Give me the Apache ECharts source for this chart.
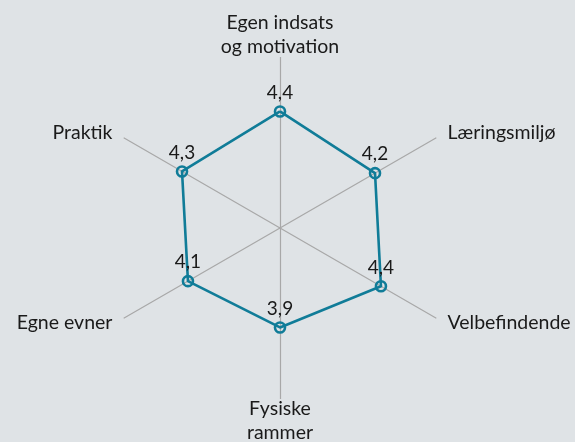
<!DOCTYPE html>
<html><head><meta charset="utf-8">
<script src="https://cdn.jsdelivr.net/npm/echarts@6/dist/echarts.min.js"></script>
<style>html,body{margin:0;padding:0;background:#dfe3e6;}#c{width:575px;height:442px;}</style>
</head><body><div id="c"></div>
<script>
// Indicators in counter-clockwise order starting at top
const categories = ['Egen indsats\nog motivation', 'Praktik', 'Egne evner', 'Fysiske\nrammer', 'Velbefindende', 'Læringsmiljø'];
const values = [4.4, 4.3, 4.1, 3.9, 4.4, 4.2];
const scaleMin = 1;
const scaleMax = 6.25;

const BG = '#dfe3e6';
const chart = echarts.init(document.getElementById('c'));
chart.setOption({
  backgroundColor: BG,
  textStyle: { fontFamily: 'Lato' },
  radar: {
    center: [280, 228],
    radius: 180,
    startAngle: 90,
    splitNumber: 1,
    indicator: categories.map(n => ({ name: n, min: scaleMin, max: scaleMax })),
    nameGap: 10,
    axisName: {
      color: '#1a1a1a', fontSize: 19.5, fontFamily: 'Lato', lineHeight: 24,
      padding: [-21, 3, -21, 3],
      formatter: n => n.split('\n').map(s => '{a|' + s + '}').join('\n'),
      rich: { a: { color: '#1a1a1a', fontSize: 19.5, fontFamily: 'Lato', lineHeight: 24, backgroundColor: BG } }
    },
    axisLine: { lineStyle: { color: '#a8a8a8', width: 1.2 } },
    splitLine: { show: false },
    splitArea: { show: false }
  },
  series: [{
    type: 'radar',
    symbol: 'circle',
    symbolSize: 10,
    lineStyle: { color: '#107c98', width: 2.6 },
    itemStyle: { color: 'rgba(0,0,0,0)', borderColor: '#107c98', borderWidth: 2.6 },
    label: {
      show: true, position: 'top', distance: 3, color: '#1a1a1a', fontSize: 19, fontFamily: 'Lato',
      formatter: p => String(p.value).replace('.', ',')
    },
    data: [{ value: values }]
  }]
});
</script></body></html>
